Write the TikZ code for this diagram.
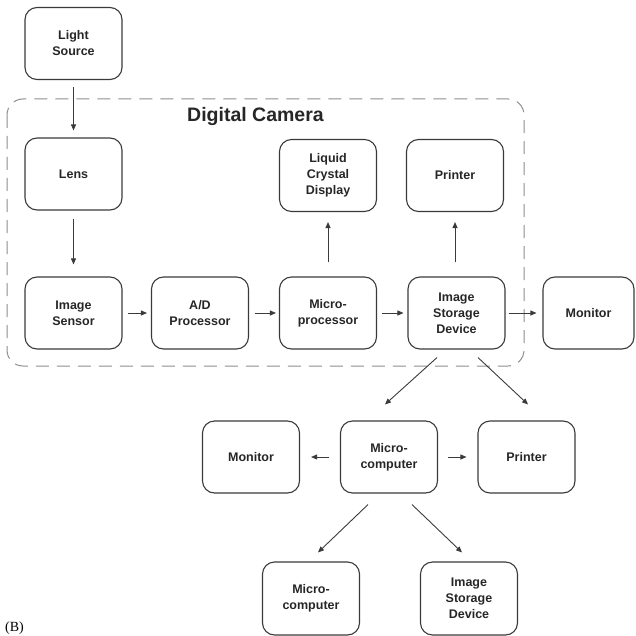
\documentclass[tikz,border=0pt]{standalone}
\usepackage{fontspec}
\setmainfont{Liberation Sans}
\newfontfamily\serifB{Liberation Serif}
\usetikzlibrary{arrows.meta}
\definecolor{boxline}{HTML}{3A3A3A}
\definecolor{dashgray}{HTML}{8E8E8E}
\tikzset{
  blk/.style={draw=boxline, line width=1.1pt, rounded corners=12pt, minimum width=97pt, minimum height=72pt,
    align=center, inner sep=0pt, font=\fontsize{12.5}{16}\selectfont\bfseries, text=black!85},
  arr/.style={draw=boxline, line width=0.9pt, -{Triangle[length=6pt,width=5pt]}},
  camframe/.style={draw=dashgray, line width=1pt, dash pattern=on 13pt off 8pt, rounded corners=16pt}
}
\begin{document}
\begin{tikzpicture}[x=1pt,y=-1pt]
\useasboundingbox (0,0) rectangle (635,636);
% camera frame
\draw[camframe] (7,99) rectangle (524,366);
\node[anchor=west, font=\fontsize{19.5}{22}\selectfont\bfseries, text=black!85, inner sep=0pt] (title) at (187,117) {Digital Camera};
% nodes
\node[blk] (light) at (73.5,43.5) {Light\\Source};
\node[blk] (lens) at (73.5,174) {Lens};
\node[blk] (sensor) at (73.5,313) {Image\\Sensor};
\node[blk] (ad) at (200,313) {A/D\\Processor};
\node[blk] (micro) at (328,313) {Micro-\\processor};
\node[blk] (lcd) at (328,175.5) {Liquid\\Crystal\\Display};
\node[blk] (printA) at (455,175.5) {Printer};
\node[blk] (isd) at (456.5,313) {Image\\Storage\\Device};
\node[blk, minimum width=91pt] (monA) at (588.5,313) {Monitor};
\node[blk] (monB) at (251,457) {Monitor};
\node[blk] (mc) at (389,457) {Micro-\\computer};
\node[blk] (printB) at (526.5,457) {Printer};
\node[blk, minimum height=73pt] (mc2) at (311,598.5) {Micro-\\computer};
\node[blk, minimum height=73pt] (isd2) at (469,598.5) {Image\\Storage\\Device};
\node[anchor=west, font=\serifB\fontsize{14}{16}\selectfont, inner sep=0pt] (lbl) at (5,628) {(B)};
% connectors
\draw[arr, shorten <=7pt, shorten >=7pt] (light) -- (lens);
\draw[arr, shorten <=8pt, shorten >=12pt] (lens) -- (sensor);
\draw[arr, shorten <=5pt, shorten >=4pt] (sensor) -- (ad);
\draw[arr, shorten <=6pt, shorten >=3pt] (ad) -- (micro);
\draw[arr, shorten <=5pt, shorten >=4pt] (micro) -- (isd);
\draw[arr, shorten <=14pt, shorten >=10pt] (micro) -- (lcd);
\draw[arr, shorten <=14pt, shorten >=10pt] (isd.north -| printA) -- (printA);
\draw[arr, shorten <=3pt, shorten >=6pt] (isd) -- (monA);
\draw[arr] ([xshift=-19.5pt,yshift=-8pt]isd.south) -- ([xshift=-4pt,yshift=16pt]mc.north);
\draw[arr] ([xshift=21.5pt,yshift=-8pt]isd.south) -- ([xshift=1.5pt,yshift=16pt]printB.north);
\draw[arr, shorten <=11pt, shorten >=11pt] (mc) -- (monB);
\draw[arr, shorten <=10pt, shorten >=11pt] (mc) -- (printB);
\draw[arr] ([xshift=-21pt,yshift=-11pt]mc.south) -- ([xshift=7pt,yshift=9pt]mc2.north);
\draw[arr] ([xshift=23pt,yshift=-11pt]mc.south) -- ([xshift=-7pt,yshift=9pt]isd2.north);
\end{tikzpicture}
\end{document}
